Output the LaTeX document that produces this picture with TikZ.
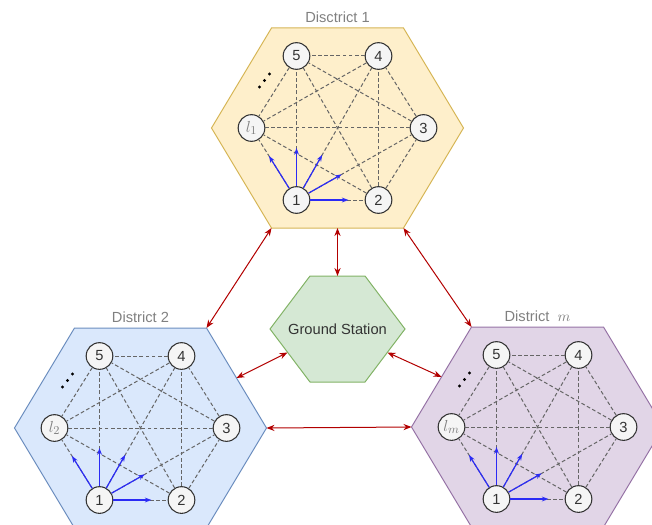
\documentclass[tikz,border=0pt]{standalone}
\usepackage{fontspec}
\setmainfont{Liberation Sans}
\usetikzlibrary{arrows.meta,calc}

\definecolor{yelfill}{HTML}{FEEFCB}
\definecolor{yelline}{HTML}{D6B656}
\definecolor{bluefill}{HTML}{DAE8FC}
\definecolor{blueline}{HTML}{6C8EBF}
\definecolor{purfill}{HTML}{E1D5E7}
\definecolor{purline}{HTML}{9673A6}
\definecolor{grnfill}{HTML}{D5E8D4}
\definecolor{grnline}{HTML}{82B366}
\definecolor{linkred}{HTML}{B20000}
\definecolor{probeblue}{HTML}{2B2BF5}

\tikzset{
  host/.style={circle,draw=black!80,fill=black!4,line width=0.8pt,
    minimum size=20pt,inner sep=0pt,text=black!80,font=\fontsize{11}{12}\selectfont},
  link/.style={draw=black!60,line width=0.75pt,dash pattern=on 2.8pt off 1.8pt},
  probe/.style={draw=probeblue,line width=0.9pt,-{Stealth[length=5pt,width=3.6pt]}},
  comm/.style={draw=linkred,line width=0.75pt,
    {Stealth[length=6pt,width=4.6pt]}-{Stealth[length=6pt,width=4.6pt]}},
  title/.style={text=black!50,font=\fontsize{11}{12}\selectfont}
}

% #1 name, #2/#3 centre, #4 fill, #5 line, #6 index of node l, #7 title
\newcommand{\drawdistrict}[7]{%
  \begin{scope}[shift={(#2,#3)}]
    \draw[fill=#4,draw=#5,line width=0.75pt]
      (-66,-100) coordinate (#1-nw) -- (66,-100) coordinate (#1-ne)
      -- (126,0) coordinate (#1-e) -- (66,100) coordinate (#1-se)
      -- (-66,100) coordinate (#1-sw) -- (-126,0) coordinate (#1-w) -- cycle;
    \coordinate (#1-upe) at (96,-50);
    \coordinate (#1-upw) at (-96,-50);
    \coordinate (#1-s) at (0,100);
    \node[title] (#1-title) at (0,-111) {#7};
    % hosts
    \node[host] (#1-n1) at (-41,72) {1};
    \node[host] (#1-n2) at (41,72) {2};
    \node[host] (#1-n3) at (86,0) {3};
    \node[host] (#1-n4) at (41,-72) {4};
    \node[host] (#1-n5) at (-41,-72) {5};
    \node[host,text=black!50,font=\fontsize{13}{14}\selectfont] (#1-nl) at (-86,0) {$l_{#6}$};
    \foreach \a/\b in {n1/n2,n1/n3,n1/n4,n1/n5,n1/nl,n2/n3,n2/n4,n2/n5,n2/nl,
                       n3/n4,n3/n5,n3/nl,n4/n5,n4/nl,n5/nl}
      \draw[link] (#1-\a) -- (#1-\b);
    \foreach \t in {nl,n5,n4,n3,n2}
      \draw[probe] (#1-n1) -- ($(#1-n1)!39pt!(#1-\t)$);
    % more hosts
    \fill (-78,-41) circle (1.6) (-73,-47.5) circle (1.6) (-68,-54) circle (1.6);
  \end{scope}}

\begin{document}
\begin{tikzpicture}[x=0.75pt,y=-0.75pt]
\useasboundingbox (0,0) rectangle (652,524);
\clip (0,0) rectangle (652,524);

\drawdistrict{d1}{337.5}{128}{yelfill}{yelline}{1}{Disctrict 1}
\drawdistrict{d2}{140.5}{428}{bluefill}{blueline}{2}{District 2}
\drawdistrict{dm}{537.5}{427}{purfill}{purline}{m}{District \ $m$}

% ground station
\begin{scope}[shift={(337.5,329)}]
  \draw[fill=grnfill,draw=grnline,line width=0.75pt]
    (-27.5,-53) coordinate (gs-nw) -- (27.5,-53) coordinate (gs-ne)
    -- (67.5,0) coordinate (gs-e) -- (27.5,53) coordinate (gs-se)
    -- (-27.5,53) coordinate (gs-sw) -- (-67.5,0) coordinate (gs-w) -- cycle;
  \coordinate (gs-n) at (0,-53);
  \coordinate (gs-lw) at (-50,23.5);
  \coordinate (gs-le) at (50,23.5);
  \node[text=black!80,font=\fontsize{11}{12}\selectfont] (gs) at (0,0) {Ground Station};
\end{scope}

% links between districts and the station
\draw[comm] (d1-sw) -- (d2-ne);
\draw[comm] (d1-s) -- (gs-n);
\draw[comm] (d1-se) -- (dm-nw);
\draw[comm] (gs-lw) -- (d2-upe);
\draw[comm] (gs-le) -- (dm-upw);
\draw[comm] (d2-e) -- (dm-w);

\end{tikzpicture}
\end{document}
